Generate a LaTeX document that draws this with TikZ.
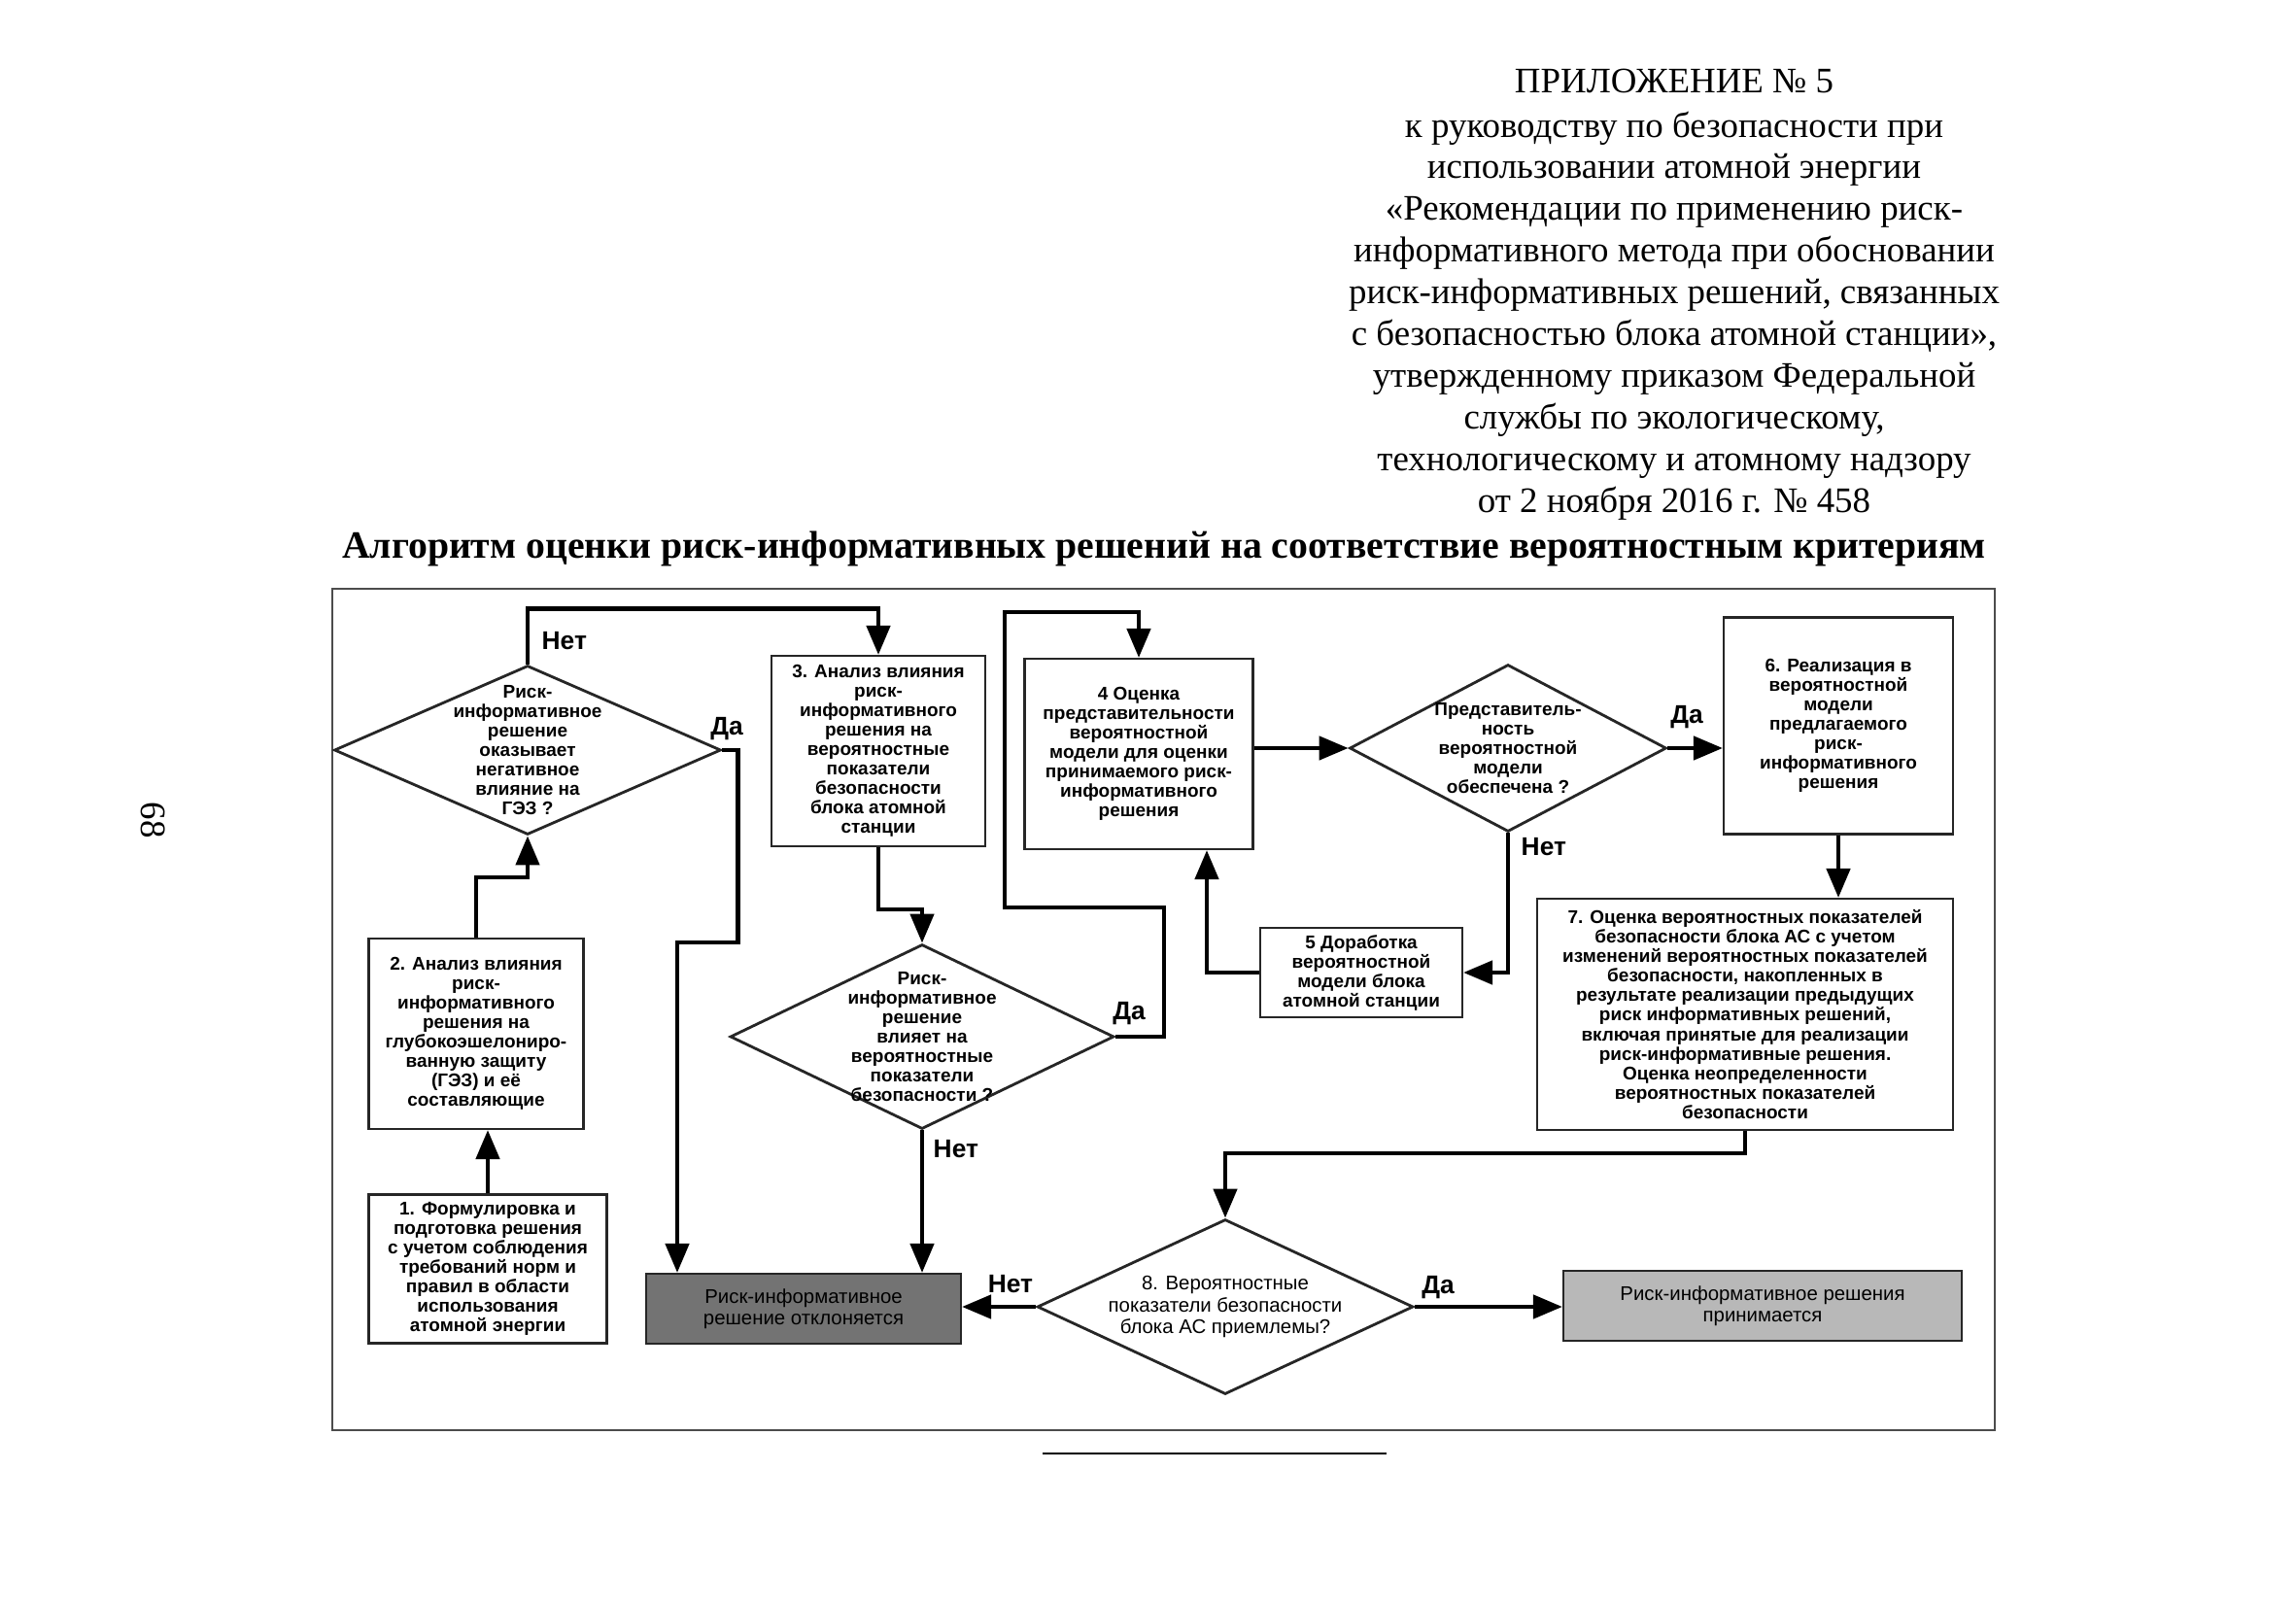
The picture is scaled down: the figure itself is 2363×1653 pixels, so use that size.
\documentclass[tikz,border=0pt]{standalone}
\usepackage{fontspec}
\setmainfont{Liberation Serif}
\setsansfont{Liberation Sans}
\usetikzlibrary{arrows.meta,shapes.geometric,positioning}

\begin{document}
\begin{tikzpicture}[
  x=0.1mm, y=-0.1mm,
  >={Triangle[length=3mm,width=2.4mm]},
  blk/.style={draw=black!85, line width=0.6pt, align=center, inner sep=1pt,
    font=\sffamily\bfseries\fontsize{5.4}{5.7}\selectfont},
  dia/.style={diamond, draw=black!85, line width=0.8pt, inner sep=0pt},
  dtxt/.style={align=center, inner sep=0pt,
    font=\sffamily\bfseries\fontsize{5.4}{5.7}\selectfont},
  e/.style={->, line width=1.3pt},
  lbl/.style={font=\sffamily\bfseries\fontsize{7.5}{8}\selectfont, inner sep=0pt},
  hdr/.style={align=center, inner sep=0pt, font=\fontsize{10.5}{12.2}\selectfont},
]
\useasboundingbox (0,0) rectangle (2363,1653);

% header
\node[rotate=-90, font=\fontsize{10.5}{12}\selectfont] (page) at (158,844) {68};
\node[hdr] (app) at (1723,83) {ПРИЛОЖЕНИЕ № 5};
\node[hdr, anchor=north] (ref) at (1723,114) {к руководству по безопасности при\\
  использовании атомной энергии\\
  «Рекомендации по применению риск-\\
  информативного метода при обосновании\\
  риск-информативных решений, связанных\\
  с безопасностью блока атомной станции»,\\
  утвержденному приказом Федеральной\\
  службы по экологическому,\\
  технологическому и атомному надзору\\
  от 2 ноября 2016 г. № 458};
\node[font=\bfseries\fontsize{11.3}{13}\selectfont, inner sep=0pt] (title) at (1198,565)
  {Алгоритм оценки риск-информативных решений на соответствие вероятностным критериям};

% frame
\draw[line width=0.5pt, draw=black!70] (342,606) rectangle (2053,1472);
\draw[line width=0.8pt] (1073,1496) -- (1427,1496);

% blocks
\node[blk, minimum width=24.5mm, minimum height=15.3mm] (b1) at (502,1306)
  {1. Формулировка и\\подготовка решения\\с учетом соблюдения\\требований норм и\\правил в области\\использования\\атомной энергии};
\node[blk, minimum width=22.1mm, minimum height=19.6mm] (b2) at (490,1064)
  {2. Анализ влияния\\риск-\\информативного\\решения на\\глубокоэшелониро-\\ванную защиту\\(ГЭЗ) и её\\составляющие};
\node[blk, minimum width=22mm, minimum height=19.6mm] (b3) at (904,773)
  {3. Анализ влияния\\риск-\\информативного\\решения на\\вероятностные\\показатели\\безопасности\\блока атомной\\станции};
\node[blk, minimum width=23.5mm, minimum height=19.6mm] (b4) at (1172,776)
  {4 Оценка\\представительности\\вероятностной\\модели для оценки\\принимаемого риск-\\информативного\\решения};
\node[blk, minimum width=20.8mm, minimum height=9.2mm] (b5) at (1401,1001)
  {5 Доработка\\вероятностной\\модели блока\\атомной станции};
\node[blk, minimum width=23.6mm, minimum height=22.3mm] (b6) at (1892,747)
  {6. Реализация в\\вероятностной\\модели\\предлагаемого\\риск-\\информативного\\решения};
\node[blk, minimum width=42.8mm, minimum height=23.8mm] (b7) at (1796,1044)
  {7. Оценка вероятностных показателей\\безопасности блока АС с учетом\\изменений вероятностных показателей\\безопасности, накопленных в\\результате реализации предыдущих\\риск информативных решений,\\включая принятые для реализации\\риск-информативные решения.\\Оценка неопределенности\\вероятностных показателей\\безопасности};
\node[blk, fill=black!55, minimum width=32.4mm, minimum height=7.2mm,
  font=\sffamily\fontsize{5.8}{6.2}\selectfont] (rej) at (827,1347)
  {Риск-информативное\\решение отклоняется};
\node[blk, fill=black!28, minimum width=41mm, minimum height=7.2mm,
  font=\sffamily\fontsize{5.8}{6.2}\selectfont] (acc) at (1814,1344)
  {Риск-информативное решения\\принимается};

% decisions
\node[dia, minimum width=39.8mm, minimum height=17.4mm] (q1) at (543,772) {};
\node[dtxt] (q1t) at (q1) {Риск-\\информативное\\решение\\оказывает\\негативное\\влияние на\\ГЭЗ ?};
\node[dia, minimum width=39.5mm, minimum height=19mm] (q3) at (949,1067) {};
\node[dtxt] (q3t) at (q3) {Риск-\\информативное\\решение\\влияет на\\вероятностные\\показатели\\безопасности ?};
\node[dia, minimum width=32.6mm, minimum height=17.2mm] (q4) at (1552,770) {};
\node[dtxt] (q4t) at (q4) {Представитель-\\ность\\вероятностной\\модели\\обеспечена ?};
\node[dia, minimum width=38.7mm, minimum height=18mm] (q8) at (1261,1345) {};
\node[dtxt, font=\sffamily\fontsize{5.8}{6.4}\selectfont] (q8t) at (q8)
  {8. Вероятностные\\показатели безопасности\\блока АС приемлемы?};

% connectors
\draw[e] (b1.north) -- (b1.north |- b2.south);
\draw[e] (b2.north) -- ++(0,-62) -| (q1.south);
\draw[e] (q1.north) -- ++(0,-57) -| (b3.north);
\node[lbl, anchor=west] (l1n) at (557,660) {Нет};
\draw[e] (q1.east) -| ++(16,198) -| ([xshift=-13mm]rej.north);
\node[lbl] (l1y) at (748,750) {Да};
\draw[e] (b3.south) -- ++(0,64) -| (q3.north);
\draw[e] (q3.south) -- (q3.south |- rej.north);
\node[lbl, anchor=west] (l3n) at (960,1183) {Нет};
\draw[e] (q3.east) -- ++(50,0) -- ++(0,-133) -| (1034,630) -| (b4.north);
\node[lbl] (l3y) at (1162,1043) {Да};
\draw[e] (b4.east |- q4.west) -- (q4.west);
\draw[e] (q4.east) -- (q4.east -| b6.west);
\node[lbl] (l4y) at (1736,738) {Да};
\draw[e] (q4.south) |- (b5.east);
\node[lbl, anchor=west] (l4n) at (1565,872) {Нет};
\draw[e] (b5.west) -| ([xshift=7mm]b4.south);
\draw[e] (b6.south) -- (b6.south |- b7.north);
\draw[e] (b7.south) -- ++(0,23) -| (q8.north);
\draw[e] (q8.west) -- (q8.west -| rej.east);
\node[lbl] (l8n) at (1040,1322) {Нет};
\draw[e] (q8.east) -- (q8.east -| acc.west);
\node[lbl] (l8y) at (1480,1325) {Да};
\end{tikzpicture}
\end{document}
